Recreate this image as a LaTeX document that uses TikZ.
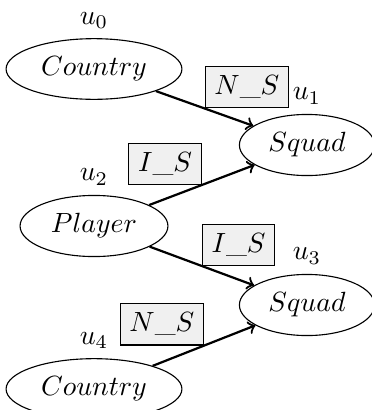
\documentclass[tikz,border=0pt]{standalone}
\usetikzlibrary{shapes.geometric}
\begin{document}
\begin{tikzpicture}[x=0.36pt,y=-0.36pt,
  ent/.style={draw,ellipse},
  rel/.style={draw,thin,fill=gray!12,auto,midway},
  link/.style={->,thick}]
\useasboundingbox (0,0) rectangle (372,410);
\node[ent,label=above:{$u_0$}] (u0) at (94,69) {$Country$};
\node[ent,label=above:{$u_1$}] (u1) at (307,145) {$Squad$};
\node[ent,label=above:{$u_2$}] (u2) at (94,226) {$Player$};
\node[ent,label=above:{$u_3$}] (u3) at (307,305) {$Squad$};
\node[ent,label=above:{$u_4$}] (u4) at (94,389) {$Country$};
\draw[link] (u0) -- node[rel] (r1) {$N\_S$} (u1);
\draw[link] (u2) -- node[rel] (r2) {$I\_S$} (u1);
\draw[link] (u2) -- node[rel] (r3) {$I\_S$} (u3);
\draw[link] (u4) -- node[rel] (r4) {$N\_S$} (u3);
\end{tikzpicture}
\end{document}
